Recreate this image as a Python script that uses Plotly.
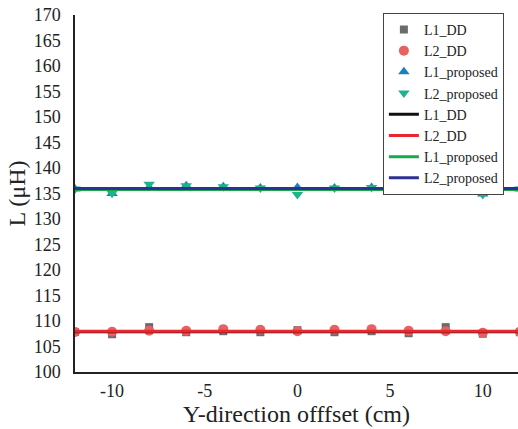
import plotly.graph_objects as go

# Y-direction offset positions (cm)
offset_cm = [-12, -10, -8, -6, -4, -2, 0, 2, 4, 6, 8, 10, 12]

# Measured self-inductances (uH)
l1_dd_meas = [107.85, 107.4, 108.8, 107.8, 108.0, 107.8, 108.2, 107.8, 108.0, 107.6, 108.8, 107.5, 107.8]
l2_dd_meas = [107.85, 107.9, 108.1, 108.1, 108.4, 108.3, 108.0, 108.3, 108.4, 108.1, 108.0, 107.7, 107.9]
l1_prop_meas = [135.9, 135.0, 136.2, 136.5, 136.3, 136.1, 136.2, 136.1, 136.2, 136.6, 136.3, 134.9, 135.9]
l2_prop_meas = [135.9, 135.05, 136.8, 136.5, 136.3, 136.1, 134.8, 136.1, 136.2, 136.6, 136.9, 134.8, 135.9]

# Calculated (constant) values
l1_dd_calc = 107.9
l2_dd_calc = 108.0
l1_prop_calc = 135.8
l2_prop_calc = 136.0

x_ticks = [-10, -5, 0, 5, 10]
y_ticks = list(range(100, 171, 5))

FONT = "Liberation Serif"
TXT = "#222222"

fig = go.Figure()

fig.add_trace(go.Scatter(x=offset_cm, y=l1_dd_meas, mode="markers", name="L1_DD",
                         marker=dict(symbol="square", size=8, color="#6b6b6b")))
fig.add_trace(go.Scatter(x=offset_cm, y=l2_dd_meas, mode="markers", name="L2_DD",
                         marker=dict(symbol="circle", size=10, color="#e8605f")))
fig.add_trace(go.Scatter(x=offset_cm, y=l1_prop_meas, mode="markers", name="L1_proposed",
                         marker=dict(symbol="triangle-up", size=10, color="#1b7fc4")))
fig.add_trace(go.Scatter(x=offset_cm, y=l2_prop_meas, mode="markers", name="L2_proposed",
                         marker=dict(symbol="triangle-down", size=10, color="#1db38b")))

line_x = [offset_cm[0], offset_cm[-1]]
for name, val, col in [("L1_DD", l1_dd_calc, "#111111"),
                       ("L2_DD", l2_dd_calc, "#e8282e"),
                       ("L1_proposed", l1_prop_calc, "#19aa4c"),
                       ("L2_proposed", l2_prop_calc, "#2e3192")]:
    fig.add_trace(go.Scatter(x=line_x, y=[val, val], mode="lines", name=name,
                             line=dict(color=col, width=3)))

fig.update_layout(
    width=518, height=429,
    margin=dict(l=75, r=0, t=15, b=57),
    paper_bgcolor="white", plot_bgcolor="white",
    font=dict(family=FONT, size=15, color=TXT),
    showlegend=True,
    legend=dict(x=0.695, y=1.006, xanchor="left", yanchor="top",
                bgcolor="white", bordercolor="#444444", borderwidth=1,
                font=dict(family=FONT, size=14, color=TXT),
                tracegroupgap=0, itemwidth=30),
    xaxis=dict(range=[-12, 11.9], tickvals=x_ticks, ticktext=[str(v) for v in x_ticks],
               showgrid=False, zeroline=False, showline=True, linecolor=TXT, linewidth=1.5,
               ticks="", ticklabelstandoff=2, tickfont=dict(family=FONT, size=18, color=TXT),
               title=dict(text="Y-direction offfset (cm)", font=dict(family=FONT, size=24, color=TXT),
                          standoff=0)),
    yaxis=dict(range=[100, 170], tickvals=y_ticks, showgrid=False, zeroline=False,
               showline=True, linecolor=TXT, linewidth=1.5, ticks="", ticklabelstandoff=9,
               tickfont=dict(family=FONT, size=18, color=TXT),
               title=dict(text="L (μH)", font=dict(family=FONT, size=24, color=TXT), standoff=1)),
)

fig.write_html("out.html")
